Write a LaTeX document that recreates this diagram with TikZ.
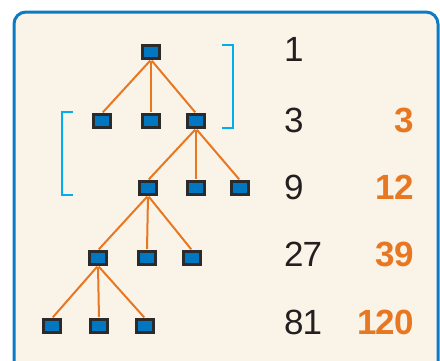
\documentclass[tikz,border=0pt]{standalone}
\usepackage{fontspec}
\setmainfont{Liberation Sans}
\newfontfamily\numfont[LetterSpace=-3]{Liberation Sans}
\usetikzlibrary{positioning}
\definecolor{sqblue}{HTML}{0077C0}
\definecolor{sqborder}{HTML}{2B2B2B}
\definecolor{edgeorange}{HTML}{E87722}
\definecolor{brblue}{HTML}{00AEEF}
\definecolor{framebg}{HTML}{FAF3E8}
\definecolor{frameblue}{HTML}{0A7BC4}
\definecolor{numblack}{HTML}{231F20}

\begin{document}
\begin{tikzpicture}[x=1pt,y=-1pt,
  sq/.style={draw=sqborder,fill=sqblue,line width=2.5pt,minimum width=17pt,minimum height=13pt,inner sep=0pt},
  link/.style={draw=edgeorange,line width=2pt,shorten <=1.2pt,shorten >=1.2pt},
  bracket/.style={draw=brblue,line width=2.5pt},
  cnt/.style={font=\numfont\fontsize{35}{40}\selectfont,text=numblack,anchor=west,inner sep=0pt},
  tot/.style={font=\numfont\fontsize{35}{40}\selectfont\bfseries,text=edgeorange,anchor=east,inner sep=0pt}]

  \useasboundingbox (0,0) rectangle (440,360);
  \draw[frameblue,fill=framebg,line width=3pt,rounded corners=12pt] (14,12) rectangle (438,378);

  % tree
  \node[sq] (r)  at (151,52)  {};
  \node[sq] (a1) at (102,121) {};
  \node[sq] (a2) at (151,121) {};
  \node[sq] (a3) at (196,121) {};
  \node[sq] (b1) at (148,188) {};
  \node[sq] (b2) at (196,188) {};
  \node[sq] (b3) at (240,188) {};
  \node[sq] (c1) at (98,258)  {};
  \node[sq] (c2) at (147,258) {};
  \node[sq] (c3) at (192,258) {};
  \node[sq] (d1) at (52,326)  {};
  \node[sq] (d2) at (99,326)  {};
  \node[sq] (d3) at (145,326) {};

  \foreach \p/\c in {r/a1,r/a2,r/a3,a3/b1,a3/b2,a3/b3,b1/c1,b1/c2,b1/c3,c1/d1,c1/d2,c1/d3}
    \path[link] (\p.south) -- (\c.north);

  % brackets
  \draw[bracket] (222,45) -- (233,45) -- (233,128) -- (222,128);
  \draw[bracket] (73,112) -- (62,112) -- (62,195) -- (73,195);

  % counts per level
  \node[cnt] (n1)  at (284,49.5) {1};
  \node[cnt] (n2)  at (284,120)  {3};
  \node[cnt] (n3)  at (284,187)  {9};
  \node[cnt] (n4)  at (284,254.5) {27};
  \node[cnt] (n5)  at (284,322)  {81};

  % running totals
  \node[tot] (t2) at (414,120)  {3};
  \node[tot] (t3) at (414,187)  {12};
  \node[tot] (t4) at (414,254.5) {39};
  \node[tot] (t5) at (414,322)  {120};
\end{tikzpicture}
\end{document}
